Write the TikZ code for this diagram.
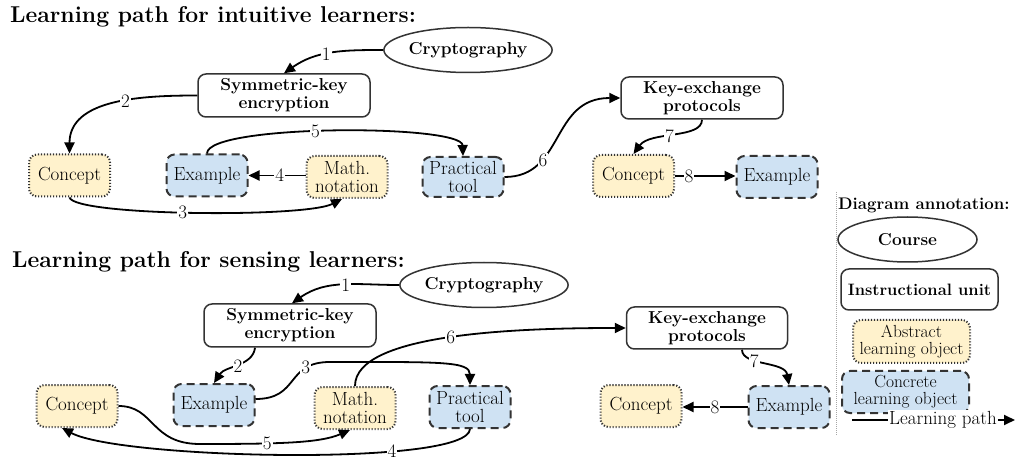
\documentclass[tikz,border=0pt]{standalone}
\usetikzlibrary{arrows.meta,shapes.geometric}
\definecolor{dk}{HTML}{333333}
\definecolor{absfill}{HTML}{FFF2CC}
\definecolor{confill}{HTML}{CFE2F3}
\def\szN{19}\def\szB{17.3}\def\szT{22.9}\def\szL{16.8}\def\szLO{17.5}\def\szLP{19}\def\szIU{16.5}
\begin{document}
\begin{tikzpicture}[x=1pt,y=1pt,
  base/.style={inner sep=0pt, align=center, font=\fontsize{\szN}{18}\selectfont},
  course/.style={base, ellipse, draw=dk, line width=1.5pt, font=\fontsize{\szB}{18}\selectfont\bfseries, minimum width=139pt, minimum height=45pt},
  unit/.style={base, rectangle, rounded corners=8pt, draw=dk, line width=1.5pt, font=\fontsize{\szB}{18}\selectfont\bfseries},
  abstr/.style={base, rectangle, rounded corners=8pt, draw=dk, fill=absfill, line width=2pt, dash pattern=on 1.2pt off 1.8pt, minimum width=81pt, minimum height=42pt},
  concr/.style={base, rectangle, rounded corners=8pt, draw=dk, fill=confill, line width=2pt, dash pattern=on 8pt off 5pt, minimum width=81pt, minimum height=42pt},
  flow/.style={line width=1.8pt, -{Triangle[length=11pt,width=10pt]}},
  lbl/.style={fill=white, inner sep=1pt, font=\fontsize{\szN}{18}\selectfont},
  title/.style={anchor=west, inner sep=0pt, font=\fontsize{\szT}{28}\selectfont\bfseries}]
\useasboundingbox (0,0) rectangle (1018,461);
\fill[white] (0,0) rectangle (1018,461);

% ---------- intuitive learners ----------
\node[title] (t1) at (10,444) {Learning path for intuitive learners:};
\node[course] (cA) at (468,411) {Cryptography};
\node[unit, minimum width=172pt, minimum height=43pt] (sA) at (284,365.5) {Symmetric-key\\encryption};
\node[abstr] (coA) at (69.5,285.5) {Concept};
\node[concr] (exA) at (207,285.5) {Example};
\node[abstr] (maA) at (347,284) {Math.\\notation};
\node[concr, minimum height=40pt] (ptA) at (463,284) {Practical\\tool};
\node[unit, minimum width=162pt, minimum height=42pt] (kA) at (702,363) {Key-exchange\\protocols};
\node[abstr] (co2A) at (633.5,285) {Concept};
\node[concr] (ex2A) at (777,284) {Example};

\draw[flow] (cA.west) to[out=180,in=35] node[lbl,pos=0.55]{1} (sA.north);
\draw[flow] (sA.west) to[out=180,in=90] node[lbl,pos=0.42]{2} (coA.north);
\draw[flow] (coA.south) .. controls (75,245) and (305,243) .. ([xshift=-5pt]maA.south) node[lbl,pos=0.47]{3};
\draw[flow] (maA.west |- exA.east) -- (exA.east) node[lbl,pos=0.45]{4};
\draw[flow] (exA.north) .. controls (207,337) and (462,337) .. (ptA.north) node[lbl,pos=0.45]{5};
\draw[flow] (ptA.east) .. controls (565,284) and (550,363) .. (kA.west) node[lbl,pos=0.3]{6};
\draw[flow] (kA.south) .. controls (702,322) and (650,330) .. (co2A.north) node[lbl,pos=0.55]{7};
\draw[flow] (co2A.east) -- (co2A.east -| ex2A.west) node[lbl,pos=0.23]{8};

% ---------- sensing learners ----------
\node[title] (t2) at (12,199) {Learning path for sensing learners:};
\node[course] (cB) at (484,176) {Cryptography};
\node[unit, minimum width=172pt, minimum height=43pt] (sB) at (290,135.5) {Symmetric-key\\encryption};
\node[abstr] (coB) at (77,55) {Concept};
\node[concr] (exB) at (214,56) {Example};
\node[abstr] (maB) at (355,53) {Math.\\notation};
\node[concr] (ptB) at (470,54) {Practical\\tool};
\node[unit, minimum width=161pt, minimum height=42pt] (kB) at (707,133) {Key-exchange\\protocols};
\node[abstr] (co2B) at (641,55) {Concept};
\node[concr] (ex2B) at (789,54) {Example};

\draw[flow] (cB.west) to[out=180,in=35] node[lbl,pos=0.47]{1} ([xshift=2pt]sB.north);
\draw[flow] ([xshift=-35pt]sB.south) .. controls (253,95) and (225,95) .. (exB.north) node[lbl,pos=0.5]{2};
\draw[flow] ([yshift=6pt]exB.east) .. controls (300,62) and (285,99) .. (330,99) node[lbl,pos=0.75]{3} .. controls (440,99) and (470,100) .. (ptB.north);
\draw[flow] (maB.north) .. controls (355,128) and (520,133) .. (kB.west) node[lbl,pos=0.5]{6};
\draw[flow] (ptB.south) .. controls (468,-6) and (120,2) .. ([xshift=-15pt]coB.south) node[lbl,pos=0.3]{4};
\draw[flow] (coB.east) .. controls (155,55) and (150,17) .. (200,17) .. controls (280,17) and (320,18) .. ([xshift=-5pt]maB.south) node[lbl,pos=0.33]{5};
\draw[flow] ([xshift=35pt]kB.south) .. controls (742,95) and (785,100) .. (ex2B.north) node[lbl,pos=0.35]{7};
\draw[flow] (ex2B.west) -- (ex2B.west -| co2B.east) node[lbl,pos=0.5]{8};

% ---------- legend ----------
\draw[gray!70, line width=1pt, dash pattern=on 1pt off 1pt] (836,269) -- (836,26);
\node[anchor=west, inner sep=0pt, font=\fontsize{\szL}{20}\selectfont\bfseries] (lt) at (838,256) {Diagram annotation:};
\node[course] (lc) at (907.5,221.5) {Course};
\node[unit, minimum width=157pt, minimum height=41pt, font=\fontsize{\szIU}{18}\selectfont\bfseries] (lu) at (919.5,171.5) {Instructional unit};
\node[abstr, minimum width=117pt, minimum height=43pt, font=\fontsize{\szLO}{17}\selectfont] (la) at (911.5,119.5) {Abstract\\learning object};
\node[concr, minimum width=127pt, minimum height=42pt, font=\fontsize{\szLO}{17}\selectfont] (lk) at (905.5,69) {Concrete\\learning object};
\coordinate (lp1) at (852,41);
\coordinate (lp2) at (1015,41);
\draw[flow] (lp1) -- (lp2) node[lbl,pos=0.558,font=\fontsize{\szLP}{18}\selectfont]{Learning path};
\end{tikzpicture}
\end{document}
